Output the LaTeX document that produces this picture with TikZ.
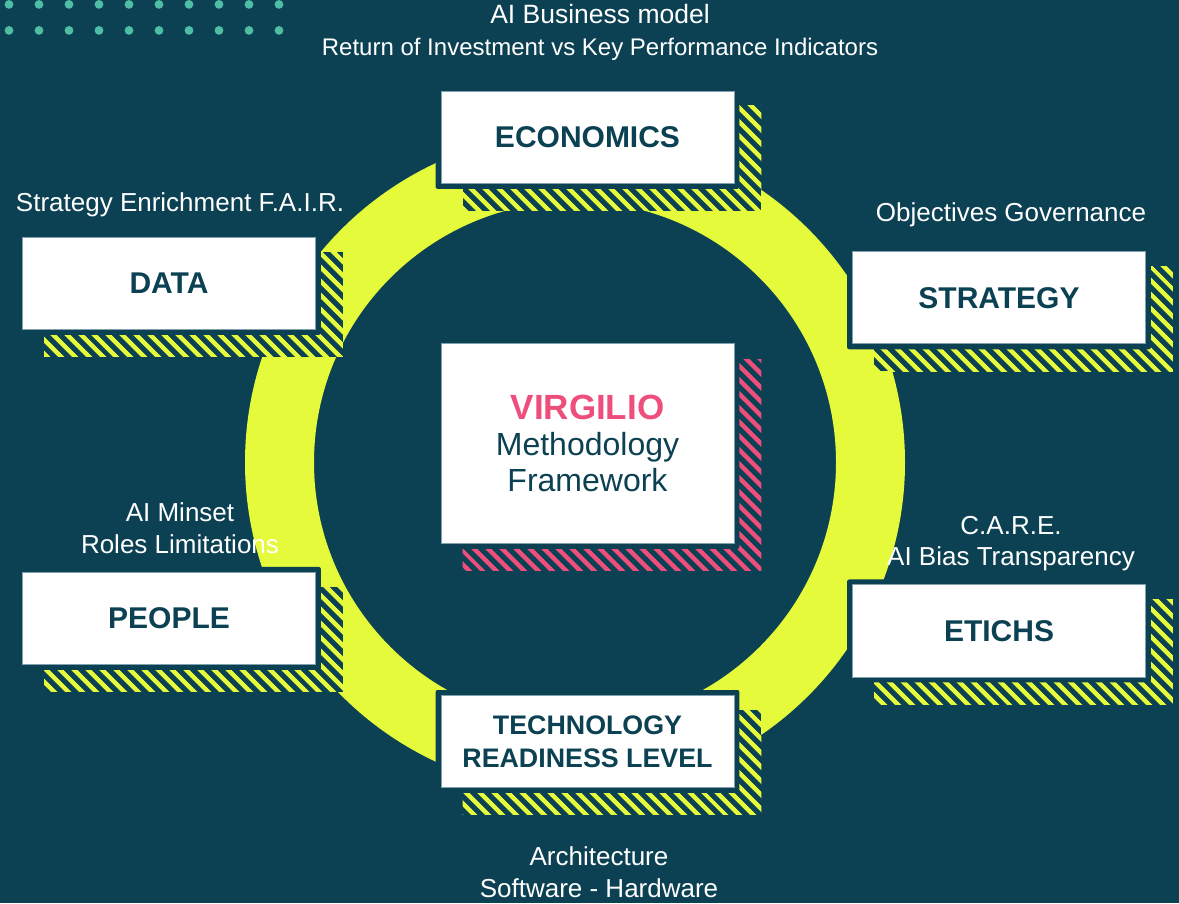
\documentclass[tikz,border=0pt]{standalone}
\usepackage{fontspec}
\setmainfont{Liberation Sans}
\usetikzlibrary{patterns.meta}
\definecolor{bg}{HTML}{0B4152}
\definecolor{lime}{HTML}{E6FA3C}
\definecolor{dotc}{HTML}{4FBCA4}
\definecolor{pinkc}{HTML}{EE4E7B}
\definecolor{edgec}{HTML}{7FA0AC}
\pgfdeclarelayer{base}
\pgfdeclarelayer{shad}
\pgfsetlayers{base,shad,main}
\tikzset{
  card/.style={fill=white, draw=edgec, line width=0.8pt, inner sep=0pt,
    minimum width=293pt, minimum height=92pt, text=bg,
    font=\fontsize{30}{33}\selectfont\bfseries, align=center},
  side/.style={text=white, font=\fontsize{26}{31.5}\selectfont, align=center, inner sep=0pt},
  frame/.style={fill=bg, rounded corners=2pt},
  stripes/.style={fill=bg, postaction={pattern={Lines[angle=-45,distance=10.5pt,line width=5pt]}, pattern color=#1}},
}
\begin{document}
\begin{tikzpicture}[x=1pt,y=-1pt]
\begin{pgfonlayer}{base}
  \fill[bg] (0,0) rectangle (1179,903);
  \foreach \i in {0,...,9} {
    \fill[dotc] (9+30*\i,4) circle[radius=4.4];
    \fill[dotc] (9+30*\i,30) circle[radius=4.4];
  }
  \fill[lime, even odd rule] (575,462) circle[radius=330] (575,462) circle[radius=261];
\end{pgfonlayer}
\useasboundingbox (0,0) rectangle (1179,903);

\node[card] (econ) at (587.5,137) {ECONOMICS};
\node[card] (data) at (169,283) {DATA};
\node[card] (strat) at (999,297.5) {STRATEGY};
\node[card] (people) at (169,618) {PEOPLE};
\node[card] (etichs) at (999,630.5) {ETICHS};
\node[card, font=\fontsize{26.8}{33}\selectfont\bfseries] (trl) at (587.5,741) {TECHNOLOGY\\READINESS LEVEL};
\node[card, minimum height=200pt, font=\fontsize{32}{36}\selectfont] (core) at (587.5,443)
  {{\color{pinkc}\fontsize{35}{36}\selectfont\bfseries VIRGILIO}\\Methodology\\Framework};

\begin{pgfonlayer}{shad}
  \foreach \n in {econ,data,strat,people,etichs,trl} {
    \path[stripes=lime] ([shift={(22,15)}]\n.north west) rectangle ([shift={(27,27)}]\n.south east);
    \path[frame] ([shift={(-5,-5)}]\n.north west) rectangle ([shift={(5,5)}]\n.south east);
  }
  \path[stripes=pinkc] ([shift={(22,17)}]core.north west) rectangle ([shift={(27,27)}]core.south east);
  \path[frame] ([shift={(-5,-5)}]core.north west) rectangle ([shift={(5,5)}]core.south east);
\end{pgfonlayer}

\node[side] (t-econ) at (600,32)
  {{\fontsize{26.5}{31}\selectfont AI Business model}\\{\fontsize{24}{31}\selectfont Return of Investment vs Key Performance Indicators}};
\node[side] (t-data) at (180,204.5) {Strategy Enrichment F.A.I.R.};
\node[side] (t-strat) at (1011,214.5) {Objectives Governance};
\node[side] (t-people) at (180,528) {AI Minset\\Roles Limitations};
\node[side] (t-etichs) at (1011,543) {C.A.R.E.\\AI Bias Transparency};
\node[side] (t-trl) at (599,872) {Architecture\\Software - Hardware};
\end{tikzpicture}
\end{document}
